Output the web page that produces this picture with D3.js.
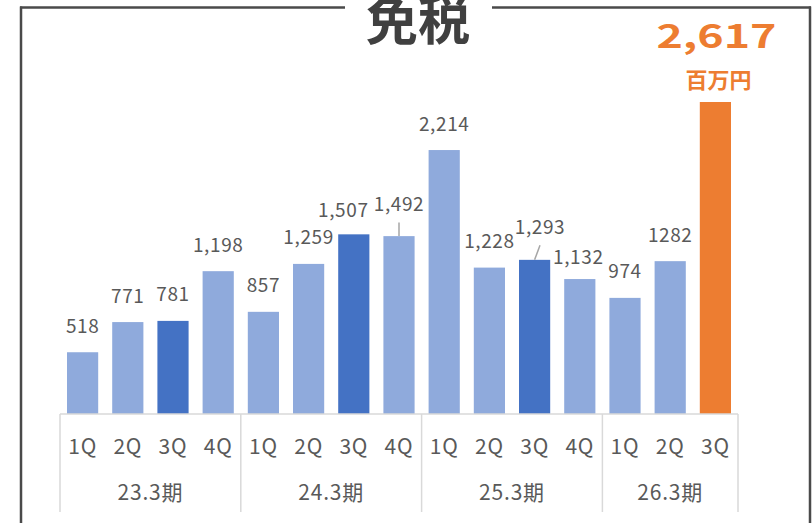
<!DOCTYPE html>
<html>
<head>
<meta charset="utf-8">
<script src="https://cdn.jsdelivr.net/npm/d3@7"></script>
<style>
  html, body { margin: 0; padding: 0; background: #fff; }
  svg { display: block; }
  text { font-family: "Noto Sans CJK JP", "Noto Sans", sans-serif; }
</style>
</head>
<body>
<svg id="chart" width="812" height="523"></svg>
<script>
// ---- data ----
const title = "免税";
const quarters = ["1Q","2Q","3Q","4Q","1Q","2Q","3Q","4Q","1Q","2Q","3Q","4Q","1Q","2Q","3Q"];
const periods = ["23.3期","24.3期","25.3期","26.3期"];
const periodSizes = [4, 4, 4, 3];
const values = [518, 771, 781, 1198, 857, 1259, 1507, 1492, 2214, 1228, 1293, 1132, 974, 1282, 2617];
const valueLabels = ["518","771","781","1,198","857","1,259","1,507","1,492","2,214","1,228","1,293","1,132","974","1282","2,617"];
const unitLabel = "百万円";

// ---- layout ----
const W = 812, H = 523;
const plotLeft = 60, plotRight = 738, axisY = 414;
const pxPerUnit = 312 / 2617;
const colors = { base: "#8FAADC", q3: "#4472C4", latest: "#ED7D31" };
const textColor = "#595959";
const gridColor = "#D9D9D9";

// label placement tweaks (dx, dy, leader line) by bar index
const labelNudge = {
  6:  { dx: -10.5, dy: 2.5 },
  7:  { dx: 0, dy: -5.5, leader: true },
  10: { dx: 5.4, dy: -6.5, leader: true },
  11: { dx: -1.5, dy: 4.5 }
};

const svg = d3.select("#chart");
const idx = d3.range(values.length);

const x = d3.scaleBand()
  .domain(idx)
  .range([plotLeft, plotRight])
  .paddingInner(0.31)
  .paddingOuter(0.155);

const yMax = 3000;
const y = d3.scaleLinear()
  .domain([0, yMax])
  .range([axisY, axisY - yMax * pxPerUnit]);

// ---- frame ----
const frameColor = "#4a4a4a";
svg.append("line").attr("x1", 21).attr("x2", 21).attr("y1", 6.5).attr("y2", H)
  .attr("stroke", frameColor).attr("stroke-width", 2.5);
svg.append("line").attr("x1", 810).attr("x2", 810).attr("y1", 6.5).attr("y2", H)
  .attr("stroke", frameColor).attr("stroke-width", 2.5);
svg.append("line").attr("x1", 20).attr("x2", 345).attr("y1", 7.5).attr("y2", 7.5)
  .attr("stroke", frameColor).attr("stroke-width", 2.5);
svg.append("line").attr("x1", 492).attr("x2", 811).attr("y1", 7.5).attr("y2", 7.5)
  .attr("stroke", frameColor).attr("stroke-width", 2.5);

svg.append("text")
  .attr("x", 418).attr("y", 40)
  .attr("text-anchor", "middle")
  .attr("font-size", 52).attr("font-weight", 700)
  .attr("fill", "#404040")
  .text(title);

// ---- bars ----
function barColor(i) {
  if (i === values.length - 1) return colors.latest;
  if (quarters[i] === "3Q") return colors.q3;
  return colors.base;
}

svg.append("g").selectAll("rect")
  .data(idx)
  .join("rect")
  .attr("x", i => x(i))
  .attr("y", i => y(values[i]))
  .attr("width", x.bandwidth())
  .attr("height", i => y(0) - y(values[i]))
  .attr("fill", i => barColor(i));

// ---- value labels ----
const labelIdx = idx.slice(0, values.length - 1);
const lg = svg.append("g");
labelIdx.forEach(i => {
  const n = labelNudge[i] || { dx: 0, dy: 0 };
  const cx = x(i) + x.bandwidth() / 2;
  const top = y(values[i]);
  const by = top - 19.5 + n.dy;
  const tx = cx + n.dx;
  lg.append("text")
    .attr("x", tx).attr("y", by)
    .attr("text-anchor", "middle")
    .attr("font-size", 19)
    .attr("letter-spacing", 0.6)
    .attr("fill", textColor)
    .text(valueLabels[i]);
  if (n.leader) {
    lg.append("line")
      .attr("x1", tx).attr("y1", by + 11.5)
      .attr("x2", cx).attr("y2", top)
      .attr("stroke", "#A6A6A6").attr("stroke-width", 1.5);
  }
});

// highlighted latest value
const last = values.length - 1;
const lastCx = x(last) + x.bandwidth() / 2;
svg.append("text")
  .attr("x", lastCx + 1).attr("y", 48)
  .attr("text-anchor", "middle")
  .attr("font-size", 33).attr("font-weight", 700)
  .attr("textLength", 120).attr("lengthAdjust", "spacingAndGlyphs")
  .attr("fill", colors.latest)
  .text(valueLabels[last]);
svg.append("text")
  .attr("x", lastCx + 3).attr("y", 88)
  .attr("text-anchor", "middle")
  .attr("font-size", 22).attr("font-weight", 700)
  .attr("fill", colors.latest)
  .text(unitLabel);

// ---- category axis (two levels) ----
const ag = svg.append("g");
ag.append("line")
  .attr("x1", plotLeft).attr("x2", plotRight)
  .attr("y1", axisY).attr("y2", axisY)
  .attr("stroke", gridColor).attr("stroke-width", 1.5);

const step = x.step();
let start = 0;
const bounds = [plotLeft];
periodSizes.forEach(s => { start += s; bounds.push(plotLeft + start * step); });
bounds[bounds.length - 1] = plotRight;
bounds.forEach(bx => {
  ag.append("line")
    .attr("x1", bx).attr("x2", bx)
    .attr("y1", axisY).attr("y2", 512)
    .attr("stroke", gridColor).attr("stroke-width", 1.5);
});

ag.selectAll("text.q")
  .data(idx)
  .join("text")
  .attr("class", "q")
  .attr("x", i => x(i) + x.bandwidth() / 2)
  .attr("y", 454)
  .attr("text-anchor", "middle")
  .attr("font-size", 21)
  .attr("letter-spacing", 0.8)
  .attr("fill", textColor)
  .text(i => quarters[i]);

periods.forEach((p, k) => {
  ag.append("text")
    .attr("x", (bounds[k] + bounds[k + 1]) / 2)
    .attr("y", 500)
    .attr("text-anchor", "middle")
    .attr("font-size", 21)
    .attr("letter-spacing", 0.8)
    .attr("fill", textColor)
    .text(p);
});
</script>
</body>
</html>
